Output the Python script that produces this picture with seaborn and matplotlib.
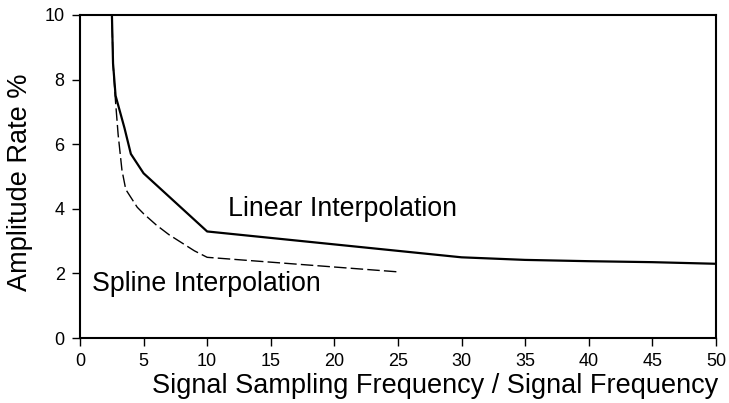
import numpy as np
import pandas as pd
import seaborn as sns
from matplotlib import pyplot as plt

sns.set_style('ticks')
plt.rcParams['font.family'] = ['Liberation Sans', 'DejaVu Sans']
plt.rcParams['text.color'] = 'black'
plt.rcParams['axes.labelcolor'] = 'black'
plt.rcParams['xtick.color'] = 'black'
plt.rcParams['ytick.color'] = 'black'

# ratio of sampling frequency to signal frequency
linear_x = [2.5, 2.6, 2.8, 3.5, 4.0, 5.0, 10.0, 15.0, 20.0, 25.0, 30.0, 35.0, 40.0, 45.0, 50.0]
linear_y = [10.2, 8.5, 7.5, 6.5, 5.7, 5.1, 3.3, 3.1, 2.9, 2.7, 2.5, 2.42, 2.38, 2.35, 2.3]

spline_x = [2.5, 2.6, 2.8, 3.0, 3.3, 3.6, 4.5, 5.0, 6.0, 7.0, 8.0, 9.0, 10.0, 15.0, 20.0, 25.0]
spline_y = [10.2, 8.5, 7.3, 6.3, 5.2, 4.6, 4.05, 3.85, 3.5, 3.2, 2.95, 2.7, 2.5, 2.35, 2.2, 2.05]

lin = pd.DataFrame({'x': linear_x, 'y': linear_y})
spl = pd.DataFrame({'x': spline_x, 'y': spline_y})

fig = plt.figure(figsize=(7.29, 4.03), dpi=100)
ax = fig.add_axes([0.1097, 0.161, 0.8723, 0.802])

sns.lineplot(data=spl, x='x', y='y', ax=ax, color='black', linewidth=1.0,
             dashes=False, linestyle=(0, (9, 3)))
sns.lineplot(data=lin, x='x', y='y', ax=ax, color='black', linewidth=1.6)

ax.set_xlim(0, 50)
ax.set_ylim(0, 10)
ax.set_xticks(np.arange(0, 51, 5))
ax.set_yticks(np.arange(0, 11, 2))
ax.tick_params(direction='out', length=6, width=1, labelsize=13, pad=5)
for s in ax.spines.values():
    s.set_linewidth(1.5)
    s.set_color('black')

ax.text(11.6, 4.0, 'Linear Interpolation', fontsize=19.3, va='center', ha='left')
ax.text(0.95, 1.68, 'Spline Interpolation', fontsize=19.3, va='center', ha='left')

ax.set_xlabel('Signal Sampling Frequency / Signal Frequency', fontsize=19.5)
ax.set_ylabel('Amplitude Rate %', fontsize=19.5)
ax.xaxis.set_label_coords(0.559, -0.108)
ax.yaxis.set_label_coords(-0.074, 0.483)

fig.savefig('out.png', dpi=100)
